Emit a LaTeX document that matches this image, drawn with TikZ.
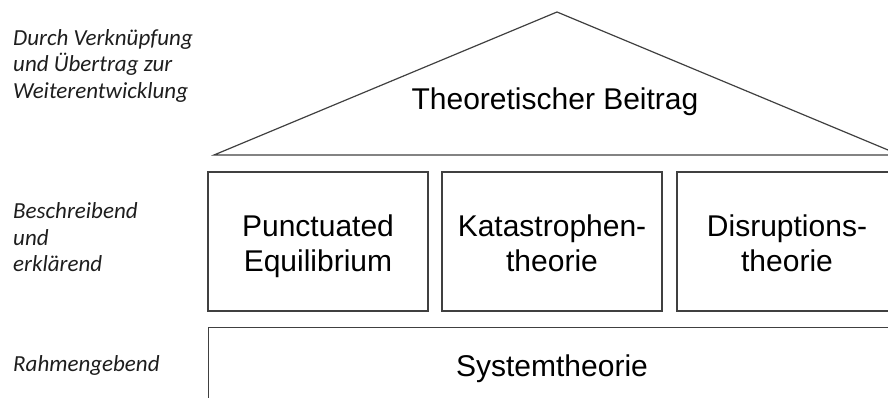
\documentclass[tikz,border=0pt]{standalone}
\usepackage{fontspec}
\setmainfont{Liberation Sans}
\newfontfamily\sidefont{Carlito}
\begin{document}
\begin{tikzpicture}[x=1pt,y=-1pt,
  linecol/.style={draw={rgb,255:red,64;green,64;blue,64}, line width=1.2pt},
  pillar/.style={linecol, minimum width=220pt, minimum height=139pt, inner sep=0pt},
  bigtext/.style={inner sep=0pt, align=center, font=\fontsize{30}{35}\selectfont},
  sidelabel/.style={anchor=north west, align=left, inner sep=0pt, text={rgb,255:red,30;green,30;blue,30},
    font=\sidefont\itshape\fontsize{23}{26.5}\selectfont}]
\useasboundingbox (0,0) rectangle (888,398);
\clip (0,0) rectangle (888,398);
% roof
\coordinate (apex) at (557,12);
\coordinate (roofL) at (214,155);
\coordinate (roofR) at (900,155);
\draw[linecol] (roofL) -- (apex) -- (roofR) -- cycle;
\node[bigtext, anchor=base] (beitrag) at (555,110) {Theoretischer Beitrag};
% pillars
\node[pillar] (punct) at (318,241.5) {};
\node[pillar] (kata) at (552,241.5) {};
\node[pillar] (disr) at (787,241.5) {};
\node[bigtext] (punctT) at (punct.center |- 0,247.2) {\strut Punctuated\\Equilibrium\strut};
\node[bigtext] (kataT) at (kata.center |- 0,247.2) {\strut Katastrophen-\\theorie\strut};
\node[bigtext] (disrT) at (disr.center |- 0,247.2) {\strut Disruptions-\\theorie\strut};
% base
\node[linecol, minimum width=690pt, minimum height=90pt, inner sep=0pt, anchor=north west] (system) at (208,327) {};
\node[bigtext, anchor=base] (systext) at (552,376.7) {Systemtheorie};
% side labels
\node[sidelabel] (l1) at (13,26.45) {\strut Durch Verknüpfung\\und Übertrag zur\\Weiterentwicklung};
\node[sidelabel] (l2) at (13,199.75) {\strut Beschreibend\\und\\erklärend};
\node[sidelabel, anchor=base west] (l3) at (13,371.7) {Rahmengebend};
\end{tikzpicture}
\end{document}
